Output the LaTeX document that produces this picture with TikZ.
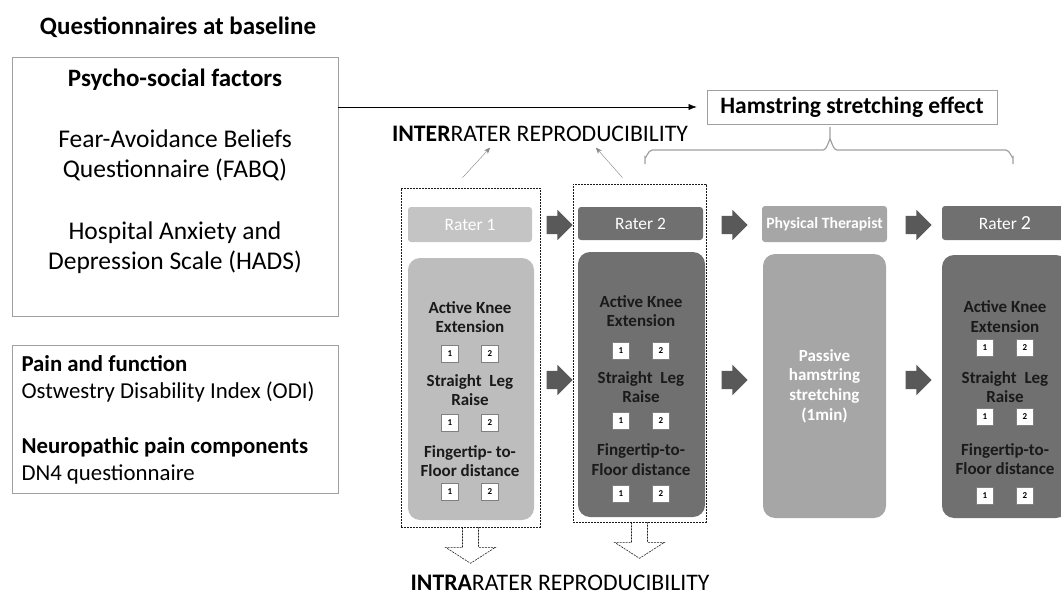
\documentclass[tikz,border=0pt]{standalone}
\usepackage{fontspec}
\setmainfont{Carlito}
\usetikzlibrary{shapes.arrows,arrows.meta}

\definecolor{headlight}{HTML}{C4C4C4}
\definecolor{lightbox}{HTML}{BDBDBD}
\definecolor{darkbox}{HTML}{707070}
\definecolor{midbox}{HTML}{A6A6A6}
\definecolor{arrowgray}{HTML}{595959}
\definecolor{linegray}{HTML}{A0A0A0}
\definecolor{inkgray}{HTML}{1A1A1A}

\tikzset{
  qbox/.style={draw=linegray, line width=0.8pt},
  header/.style={rounded corners=3pt, minimum width=125pt, minimum height=34pt,
    text=white, font=\fontsize{17.4}{20}\selectfont},
  body/.style={rounded corners=12pt, minimum width=126pt},
  numbox/.style={draw=gray, fill=white, minimum size=17pt, inner sep=0pt,
    font=\fontsize{9}{9}\selectfont\bfseries},
  mtitle/.style={align=center, inner sep=0pt, text=inkgray,
    font=\fontsize{17}{19.5}\selectfont\bfseries},
  blockarrow/.style={single arrow, fill=arrowgray, minimum height=26pt,
    inner xsep=0pt, inner ysep=9pt, single arrow head extend=6pt,
    single arrow head indent=0pt},
  group/.style={draw=inkgray, dash pattern=on 2pt off 1pt, line width=0.6pt},
  hollow/.style={draw=inkgray, dash pattern=on 2pt off 1pt, line width=0.6pt}
}

\begin{document}
\begin{tikzpicture}[x=1pt,y=-1pt]
  \useasboundingbox (0,0) rectangle (1061,594);
  \clip (0,0) rectangle (1061,594);

  % questionnaires
  \node[font=\fontsize{25}{28}\selectfont\bfseries] (qtitle) at (178,27) {Questionnaires at baseline};
  \node[qbox, minimum width=326pt, minimum height=259pt] (psy) at (175,186.5) {};
  \node[font=\fontsize{25}{28}\selectfont\bfseries] (psyt) at (175,80) {Psycho-social factors};
  \node[align=center, font=\fontsize{25.5}{30}\selectfont] (fabq) at (175,155) {Fear-Avoidance Beliefs\\Questionnaire (FABQ)};
  \node[align=center, font=\fontsize{25.5}{30}\selectfont] (hads) at (175,248) {Hospital Anxiety and\\Depression Scale (HADS)};

  \node[qbox, minimum width=326pt, minimum height=148pt] (pain) at (175,419) {};
  \node[anchor=west, align=left, font=\fontsize{22.8}{27}\selectfont] (odi) at (18,378.5)
    {\textbf{Pain and function}\\Ostwestry Disability Index (ODI)};
  \node[anchor=west, align=left, font=\fontsize{22.8}{27}\selectfont] (dn4) at (18,460.5)
    {\textbf{Neuropathic pain components}\\DN4 questionnaire};

  % stretching effect
  \node[qbox, minimum width=290pt, minimum height=34pt, font=\fontsize{23.5}{26}\selectfont\bfseries] (hse) at (852,107) {Hamstring stretching effect};
  \draw[-{Latex[length=8pt,width=6pt]}] (psy.east |- hse.west) -- ([xshift=-10pt]hse.west);
  \draw[linegray, line width=1.2pt] (645,164) -- (645,157) to[out=-90,in=180] (652,150)
    -- (823,150) to[out=0,in=90] (830,140) -- (830,127);
  \draw[linegray, line width=1.2pt] (830,140) to[out=90,in=180] (837,150)
    -- (1006,150) to[out=0,in=-90] (1013,157) -- (1013,164);

  % reproducibility
  \node[anchor=base, font=\fontsize{23.7}{26}\selectfont] (inter) at (540,141) {\textbf{INTER}RATER REPRODUCIBILITY};
  \node[anchor=base, inner sep=1pt, font=\fontsize{23.7}{26}\selectfont] (intra) at (560,590) {\textbf{INTRA}RATER REPRODUCIBILITY};

  \node[group, minimum width=139pt, minimum height=339pt] (grp1) at (470.5,357.5) {};
  \node[group, minimum width=133pt, minimum height=338pt] (grp2) at (639.5,353) {};
  \draw[gray, -{Stealth[length=6pt,width=5pt]}] ([xshift=-8pt,yshift=10pt]grp1.north) -- ([xshift=-50pt,yshift=-3pt]inter.south);
  \draw[gray, -{Stealth[length=6pt,width=5pt]}] ([xshift=-17pt,yshift=6pt]grp2.north) -- ([xshift=56pt,yshift=-3pt]inter.south);
  \foreach \g in {grp1,grp2}
    \draw[hollow] ([xshift=-8pt]\g.south) -- ++(0,20) -- ++(-17,0) -- ++(25,16)
      -- ++(25,-16) -- ++(-17,0) -- ++(0,-20);

  % raters and therapist
  \node[header, fill=headlight, minimum height=35pt, minimum width=124pt] (r1h) at (470,224.5) {Rater 1};
  \node[body, fill=lightbox, minimum height=262pt] (r1b) at (471,389) {};
  \node[header, fill=darkbox, minimum height=33pt] (r2h) at (640.5,223.5) {Rater 2};
  \node[body, fill=darkbox, minimum height=265pt, minimum width=127pt] (r2b) at (641.5,384.5) {};
  \node[header, fill=midbox, minimum height=36pt, font=\fontsize{15.7}{18}\selectfont\bfseries] (pth) at (824.5,224) {Physical Therapist};
  \node[body, fill=midbox, minimum height=264pt, minimum width=123pt] (ptb) at (824.5,386) {};
  \node[align=center, text=white, font=\fontsize{17}{19.7}\selectfont\bfseries] (ptxt) at (ptb) {Passive\\hamstring\\stretching\\(1min)};
  \node[header, fill=darkbox, minimum width=126pt] (r3h) at (1005,223) {Rater {\fontsize{20}{20}\selectfont 2}};
  \node[body, fill=darkbox, minimum height=263pt] (r3b) at (1005,386.5) {};

  \foreach \n/\x in {1/555,2/730,3/914} {
    \node[blockarrow] (ha\n) at (\x,225) {};
    \node[blockarrow] (ba\n) at (\x,380) {};
  }

  % measurements
  \foreach \n/\cx/\ta/\tb/\tc/\ba/\bb/\bc/\ft in
    {1/470/317/390/461/354/423/492/{Fingertip- to-},
     2/641/311/387/459.5/351/421/494/{Fingertip-to-},
     3/1005/316.5/387/459/348/417/496/{Fingertip-to-}} {
    \node[mtitle] (ake\n) at (\cx,\ta) {Active Knee\\Extension};
    \node[mtitle] (slr\n) at (\cx,\tb) {Straight\ \ Leg\\Raise};
    \node[mtitle] (ftf\n) at (\cx,\tc) {\ft\\Floor distance};
    \foreach \y/\m in {\ba/a,\bb/b,\bc/c} {
      \node[numbox] (n\n\m1) at (\cx-20,\y) {1};
      \node[numbox] (n\n\m2) at (\cx+20,\y) {2};
    }
  }
\end{tikzpicture}
\end{document}
